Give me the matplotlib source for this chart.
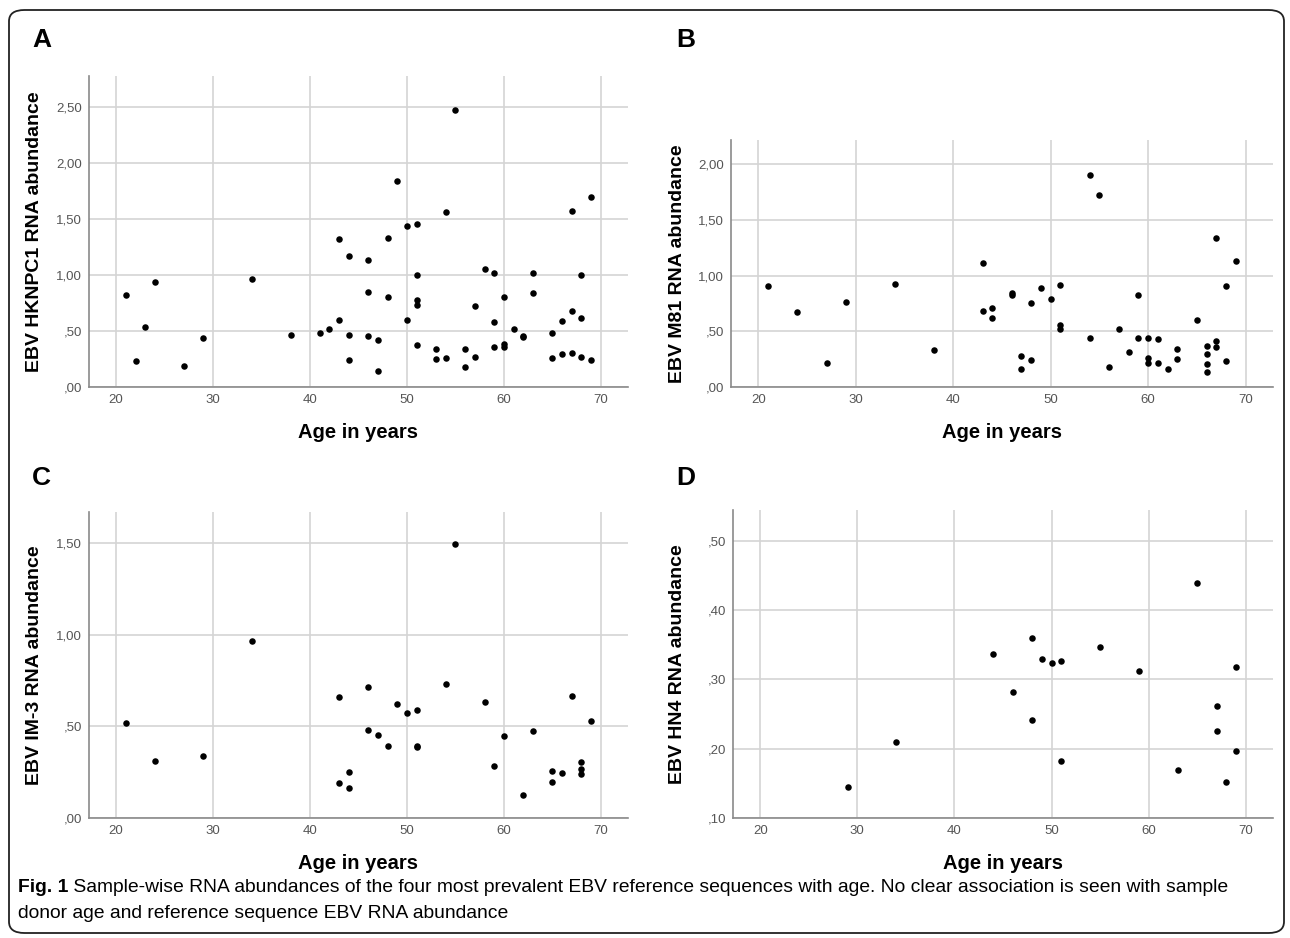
import matplotlib
matplotlib.use("Agg")
import matplotlib.pyplot as plt
from matplotlib import font_manager
from matplotlib.patches import FancyBboxPatch

# Data (age in years, EBV RNA abundance)
age_a = [21, 22, 23, 24, 27, 29, 34, 38, 41, 42, 43, 43, 44, 44, 44, 46, 46, 46, 47, 47,
         48, 48, 49, 50, 50, 51, 51, 51, 51, 51, 53, 53, 54, 54, 55, 56, 56, 57, 57, 58,
         59, 59, 59, 60, 60, 60, 61, 62, 62, 63, 63, 65, 65, 66, 66, 67, 67, 67, 68, 68,
         68, 69, 69]
abund_a = [0.82, 0.23, 0.535, 0.935, 0.19, 0.435, 0.967, 0.467, 0.482, 0.52, 1.322, 0.60,
           1.175, 0.464, 0.245, 1.133, 0.846, 0.453, 0.42, 0.142, 1.331, 0.808, 1.84, 1.441,
           0.598, 1.453, 1.0, 0.778, 0.734, 0.379, 0.337, 0.251, 1.565, 0.26, 2.476, 0.34,
           0.183, 0.725, 0.269, 1.056, 1.015, 0.58, 0.355, 0.805, 0.385, 0.355, 0.515, 0.455,
           0.445, 1.018, 0.843, 0.482, 0.26, 0.586, 0.296, 1.571, 0.678, 0.308, 1.003, 0.615,
           0.269, 1.695, 0.24]

age_b = [21, 24, 27, 29, 34, 38, 43, 43, 44, 44, 46, 46, 47, 47, 48, 48, 49, 50, 51, 51,
         51, 54, 54, 55, 56, 57, 58, 59, 59, 60, 60, 60, 61, 61, 62, 63, 63, 65, 66, 66,
         66, 66, 67, 67, 67, 68, 68, 69]
abund_b = [0.91, 0.678, 0.216, 0.768, 0.923, 0.33, 1.113, 0.681, 0.712, 0.623, 0.847, 0.826,
           0.277, 0.161, 0.755, 0.24, 0.887, 0.792, 0.916, 0.557, 0.52, 1.905, 0.438, 1.728,
           0.179, 0.517, 0.317, 0.831, 0.438, 0.443, 0.264, 0.216, 0.427, 0.214, 0.166, 0.34,
           0.253, 0.599, 0.369, 0.293, 0.203, 0.132, 1.338, 0.412, 0.364, 0.91, 0.23, 1.129]

age_c = [21, 24, 29, 34, 43, 43, 44, 44, 46, 46, 47, 48, 49, 50, 51, 51, 51, 54, 55, 58,
         59, 60, 62, 63, 65, 65, 66, 67, 68, 68, 68, 69]
abund_c = [0.516, 0.31, 0.336, 0.965, 0.659, 0.191, 0.251, 0.165, 0.716, 0.479, 0.451, 0.394,
           0.624, 0.574, 0.591, 0.392, 0.385, 0.73, 1.497, 0.631, 0.286, 0.446, 0.125, 0.475,
           0.259, 0.198, 0.246, 0.668, 0.308, 0.266, 0.242, 0.528]

age_d = [29, 34, 44, 46, 48, 48, 49, 50, 51, 51, 55, 59, 63, 65, 67, 67, 68, 69, 69]
abund_d = [0.144, 0.21, 0.336, 0.281, 0.36, 0.2415, 0.329, 0.324, 0.326, 0.182, 0.346, 0.312,
           0.1695, 0.439, 0.262, 0.225, 0.152, 0.317, 0.197]

panel_letters = ["A", "B", "C", "D"]
y_titles = ["EBV HKNPC1 RNA abundance", "EBV M81 RNA abundance",
            "EBV IM-3 RNA abundance", "EBV HN4 RNA abundance"]
x_title = "Age in years"
x_ticks = [20, 30, 40, 50, 60, 70]
y_ticks = [[0, 0.5, 1.0, 1.5, 2.0, 2.5],
           [0, 0.5, 1.0, 1.5, 2.0],
           [0, 0.5, 1.0, 1.5],
           [0.1, 0.2, 0.3, 0.4, 0.5]]
caption_bold = "Fig. 1"
caption_rest = (" Sample-wise RNA abundances of the four most prevalent EBV reference sequences "
                "with age. No clear association is seen with sample")
caption_line2 = "donor age and reference sequence EBV RNA abundance"

W, H = 1290, 938
names = {f.name for f in font_manager.fontManager.ttflist}
narrow = "Liberation Sans Narrow" if "Liberation Sans Narrow" in names else "Liberation Sans"
plt.rcParams["font.family"] = ["Liberation Sans", "DejaVu Sans"]

fig = plt.figure(figsize=(W / 100, H / 100), dpi=100)

# rounded frame around the figure
frame = FancyBboxPatch((9 / W, 5 / H), 1275 / W, 923 / H,
                       boxstyle="round,pad=0,rounding_size=0.012",
                       transform=fig.transFigure, fill=False, ec="#222222", lw=1.3)
fig.patches.append(frame)

# axes boxes in pixels: left, right, top, bottom
boxes = [(89, 628, 76, 387), (731, 1273, 140, 387), (89, 628, 512, 818), (733, 1273, 510, 818)]
ylims = [(0, 2.78), (0, 2.22), (0, 1.67), (0.10, 0.544)]
letter_pos = [(32, 40), (676, 40), (32, 478), (676, 478)]
label_x = [43, 686, 43, 686]
data = [(age_a, abund_a), (age_b, abund_b), (age_c, abund_c), (age_d, abund_d)]


def fmt(v):
    s = f"{v:.2f}".replace(".", ",")
    return s[1:] if s.startswith("0") else s


for i in range(4):
    l, r, t, b = boxes[i]
    ax = fig.add_axes([l / W, 1 - b / H, (r - l) / W, (b - t) / H])
    x, y = data[i]
    ax.scatter(x, y, s=22, color="black", zorder=3, linewidths=0)
    ax.set_xlim(17.2, 72.8)
    ax.set_ylim(*ylims[i])
    ax.set_xticks(x_ticks)
    ax.set_xticklabels([str(v) for v in x_ticks])
    ax.set_yticks(y_ticks[i])
    ax.set_yticklabels([fmt(v) for v in y_ticks[i]])
    ax.grid(True, color="#d4d4d4", lw=1.2)
    ax.set_axisbelow(True)
    for side in ["top", "right"]:
        ax.spines[side].set_visible(False)
    for side in ["left", "bottom"]:
        ax.spines[side].set_color("#8a8a8a")
        ax.spines[side].set_linewidth(1.2)
    ax.tick_params(length=0, pad=5, labelsize=9.5, labelcolor="#555555")
    for lab in ax.get_xticklabels() + ax.get_yticklabels():
        lab.set_family(narrow)
    ax.set_xlabel(x_title, fontsize=14.5, fontweight="bold", labelpad=12)
    ax.set_ylabel(y_titles[i], fontsize=14, fontweight="bold")
    ax.yaxis.set_label_coords((label_x[i] - l) / (r - l), 0.5)
    lx, ly = letter_pos[i]
    fig.text(lx / W, 1 - ly / H, panel_letters[i], fontsize=19, fontweight="bold",
             ha="left", va="center")

# caption, sized so the first line spans the same width as in the figure
cap_size = 12.5
t1 = fig.text(18 / W, 1 - 887 / H, caption_bold, fontsize=cap_size, fontweight="bold",
              family=narrow, va="center")
t2 = fig.text(0, 1 - 887 / H, caption_rest, fontsize=cap_size, family=narrow, va="center")
fig.canvas.draw()
w = t1.get_window_extent().width + t2.get_window_extent().width
cap_size = cap_size * 1212 / w
t1.set_fontsize(cap_size)
t2.set_fontsize(cap_size)
fig.canvas.draw()
t2.set_x(t1.get_window_extent().x1 / W)
fig.text(18 / W, 1 - 913 / H, caption_line2, fontsize=cap_size, family=narrow, va="center")

fig.savefig("out.png", dpi=100)
